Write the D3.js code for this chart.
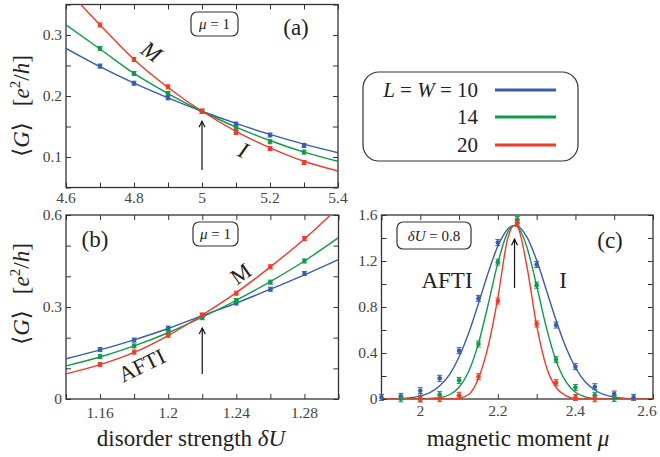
<!DOCTYPE html>
<html><head><meta charset="utf-8">
<script src="https://cdn.jsdelivr.net/npm/d3@7"></script>
<style>
body{margin:0;background:#fff;}
svg{display:block;font-family:"Liberation Serif","DejaVu Serif",serif;}
</style></head>
<body><svg id="c" width="660" height="457"></svg>
<script>
// ---------- data ----------
const sizes = ["10", "14", "20"];
const colors = ["#3a5cab", "#13994b", "#f03a2a"];

// panel (a): mu = 1, disorder strength sweep
const aX = [4.7, 4.8, 4.9, 5.0, 5.1, 5.2, 5.3];
const aY10 = [0.249, 0.221, 0.197, 0.175, 0.154, 0.136, 0.119];
const aY14 = [0.278, 0.237, 0.204, 0.175, 0.148, 0.125, 0.108];
const aY20 = [0.3165, 0.260, 0.215, 0.175, 0.140, 0.114, 0.091];
const aFitX = [4.6, 4.7, 4.8, 4.9, 5.0, 5.1, 5.2, 5.3, 5.4];
const aFit10 = [0.278, 0.248, 0.221, 0.197, 0.175, 0.155, 0.137, 0.121, 0.107];
const aFit14 = [0.3165, 0.277, 0.237, 0.204, 0.175, 0.149, 0.127, 0.108, 0.093];
const aFit20 = [0.376, 0.3165, 0.260, 0.214, 0.175, 0.142, 0.115, 0.093, 0.077];
const aXTicks = [4.6, 4.7, 4.8, 4.9, 5.0, 5.1, 5.2, 5.3, 5.4];
const aXLabels = [4.6, 4.8, 5.0, 5.2, 5.4];
const aYTicks = [0.05, 0.1, 0.15, 0.2, 0.25, 0.3, 0.35];
const aYLabels = [0.1, 0.2, 0.3];

// panel (b): mu = 1
const bX = [1.16, 1.18, 1.20, 1.22, 1.24, 1.26, 1.28];
const bY10 = [0.161, 0.192, 0.231, 0.272, 0.313, 0.358, 0.409];
const bY14 = [0.138, 0.173, 0.217, 0.265, 0.321, 0.381, 0.450];
const bY20 = [0.113, 0.153, 0.208, 0.274, 0.345, 0.431, 0.523];
const bFitX = [1.14, 1.16, 1.18, 1.20, 1.22, 1.24, 1.26, 1.28, 1.30];
const bFit10 = [0.131, 0.160, 0.193, 0.230, 0.272, 0.313, 0.358, 0.405, 0.455];
const bFit14 = [0.108, 0.137, 0.173, 0.216, 0.267, 0.322, 0.383, 0.450, 0.526];
const bFit20 = [0.082, 0.112, 0.152, 0.207, 0.274, 0.347, 0.431, 0.522, 0.625];
const bXTicks = [1.14, 1.16, 1.18, 1.20, 1.22, 1.24, 1.26, 1.28, 1.30];
const bXLabels = [1.16, 1.20, 1.24, 1.28];
const bYTicks = [0, 0.1, 0.2, 0.3, 0.4, 0.5, 0.6];
const bYLabels = [0, 0.3, 0.6];

// panel (c): dU = 0.8, magnetic moment sweep
const cX10 = [1.90, 1.95, 2.00, 2.05, 2.10, 2.15, 2.20, 2.25, 2.30, 2.35, 2.40, 2.45, 2.50, 2.55];
const cY10 = [0.014, 0.023, 0.072, 0.18, 0.42, 0.875, 1.36, 1.53, 1.17, 0.643, 0.281, 0.107, 0.043, 0.014];
const cX14 = [1.95, 2.00, 2.05, 2.10, 2.15, 2.20, 2.25, 2.30, 2.35, 2.40, 2.45, 2.50];
const cY14 = [0.002, 0.006, 0.038, 0.162, 0.478, 1.19, 1.56, 0.99, 0.342, 0.099, 0.032, 0.005];
const cX20 = [2.00, 2.05, 2.10, 2.15, 2.20, 2.25, 2.30, 2.35, 2.40, 2.45];
const cY20 = [0.0, 0.003, 0.032, 0.194, 0.852, 1.53, 0.652, 0.142, 0.014, 0.002];
const cFitX = [1.90, 1.95, 2.00, 2.05, 2.075, 2.10, 2.125, 2.15, 2.175, 2.20, 2.225, 2.243, 2.25, 2.275, 2.30, 2.325, 2.35, 2.375, 2.40, 2.425, 2.45, 2.50, 2.55, 2.60];
const cFit10 = [0.0004, 0.004, 0.025, 0.115, 0.21, 0.367, 0.576, 0.83, 1.097, 1.33, 1.477, 1.51, 1.505, 1.407, 1.206, 0.948, 0.684, 0.452, 0.274, 0.15, 0.078, 0.016, 0.002, 0.0];
const cFit14 = [0.0, 0.0, 0.0006, 0.011, 0.037, 0.102, 0.242, 0.484, 0.822, 1.184, 1.447, 1.51, 1.50, 1.32, 0.985, 0.623, 0.335, 0.153, 0.059, 0.019, 0.005, 0.0, 0.0, 0.0];
const cFit20 = [0.0, 0.0, 0.0, 0.0, 0.001, 0.007, 0.039, 0.18, 0.46, 0.88, 1.39, 1.51, 1.50, 1.15, 0.64, 0.28, 0.10, 0.03, 0.003, 0.0, 0.0, 0.0, 0.0, 0.0];
const cXTicks = [1.9, 2.0, 2.1, 2.2, 2.3, 2.4, 2.5, 2.6];
const cXLabels = [2.0, 2.2, 2.4, 2.6];
const cYTicks = [0, 0.2, 0.4, 0.6, 0.8, 1.0, 1.2, 1.4, 1.6];
const cYLabels = [0, 0.4, 0.8, 1.2, 1.6];

// ---------- drawing ----------
const svg = d3.select("#c");
const ink = "#222";
const tickInk = "#444";

function panel(o) {
  const x = d3.scaleLinear().domain(o.xd).range([o.l, o.r]);
  const y = d3.scaleLinear().domain(o.yd).range([o.b, o.t]);
  const g = svg.append("g");
  const cid = "clip" + o.id;
  svg.append("clipPath").attr("id", cid).append("rect")
    .attr("x", o.l).attr("y", o.t).attr("width", o.r - o.l).attr("height", o.b - o.t);

  const tl = 5;
  const axB = d3.axisBottom(x).tickValues(o.xt).tickSize(-tl).tickFormat("");
  const axT = d3.axisTop(x).tickValues(o.xt).tickSize(-tl).tickFormat("");
  const axL = d3.axisLeft(y).tickValues(o.yt).tickSize(-tl).tickFormat("");
  const axR = d3.axisRight(y).tickValues(o.yt).tickSize(-tl).tickFormat("");
  [[axB, `translate(0,${o.b})`], [axT, `translate(0,${o.t})`], [axL, `translate(${o.l},0)`], [axR, `translate(${o.r},0)`]]
    .forEach(([a, tr]) => {
      const ag = g.append("g").attr("transform", tr).call(a);
      ag.select(".domain").remove();
      ag.selectAll("line").attr("stroke", "#333").attr("stroke-width", 1);
    });
  g.append("rect").attr("x", o.l).attr("y", o.t).attr("width", o.r - o.l).attr("height", o.b - o.t)
    .attr("fill", "none").attr("stroke", "#333").attr("stroke-width", 1.3);

  const fmt = v => String(+v.toFixed(3));
  const last = o.xl[o.xl.length - 1];
  g.selectAll(".xl").data(o.xl).join("text")
    .attr("x", d => x(d) - (d === last ? (o.lastShift || 0) : 0)).attr("y", o.b + o.xlOff)
    .attr("text-anchor", "middle").attr("font-size", 15.5).attr("fill", tickInk).text(fmt);
  g.selectAll(".yl").data(o.yl).join("text")
    .attr("x", o.l - 4).attr("y", d => y(d) + 5)
    .attr("text-anchor", "end").attr("font-size", 15.5).attr("fill", tickInk).text(fmt);

  const line = d3.line().x(d => x(d[0])).y(d => y(d[1])).curve(d3.curveMonotoneX);
  o.fits.forEach((f, i) => {
    g.append("path").attr("clip-path", `url(#${cid})`)
      .attr("d", line(o.fitX.map((xv, k) => [xv, f[k]])))
      .attr("fill", "none").attr("stroke", colors[i]).attr("stroke-width", 1.4);
  });
  o.pts.forEach((p, i) => {
    const pts = p[0].map((xv, k) => [xv, p[1][k]]);
    const pg = g.append("g").attr("fill", colors[i]).attr("stroke", colors[i]);
    pts.forEach(([xv, yv]) => {
      const cx = x(xv), cy = y(yv), e = o.eb;
      pg.append("line").attr("x1", cx).attr("x2", cx).attr("y1", cy - e).attr("y2", cy + e).attr("stroke-width", 1);
      pg.append("line").attr("x1", cx - 2.5).attr("x2", cx + 2.5).attr("y1", cy - e).attr("y2", cy - e).attr("stroke-width", 1);
      pg.append("line").attr("x1", cx - 2.5).attr("x2", cx + 2.5).attr("y1", cy + e).attr("y2", cy + e).attr("stroke-width", 1);
      pg.append("circle").attr("cx", cx).attr("cy", cy).attr("r", 2.3).attr("stroke", "none");
    });
  });

  const ax = x(o.arrow[0]), ay0 = y(o.arrow[1]), ay1 = y(o.arrow[2]);
  g.append("line").attr("x1", ax).attr("x2", ax).attr("y1", ay0).attr("y2", ay1)
    .attr("stroke", "#111").attr("stroke-width", 1.2);
  g.append("path").attr("d", `M${ax - 3},${ay1 + 6} L${ax},${ay1} L${ax + 3},${ay1 + 6}`)
    .attr("fill", "none").attr("stroke", "#111").attr("stroke-width", 1.2);
  return { x, y, g };
}

panel({ id: "a", l: 66, r: 338, t: 4.5, b: 187.5, xd: [4.6, 5.4], yd: [0.05, 0.35],
  xt: aXTicks, xl: aXLabels, yt: aYTicks, yl: aYLabels, xlOff: 15,
  fitX: aFitX, fits: [aFit10, aFit14, aFit20], pts: [[aX, aY10], [aX, aY14], [aX, aY20]], eb: 2,
  arrow: [5.0, 0.0785, 0.1585] });
panel({ id: "b", l: 66, r: 338.5, t: 215, b: 399, xd: [1.14, 1.30], yd: [0, 0.6],
  xt: bXTicks, xl: bXLabels, yt: bYTicks, yl: bYLabels, xlOff: 19,
  fitX: bFitX, fits: [bFit10, bFit14, bFit20], pts: [[bX, bY10], [bX, bY14], [bX, bY20]], eb: 2,
  arrow: [1.22, 0.0815, 0.2315] });
panel({ id: "c", l: 381.5, r: 653, t: 215, b: 399, xd: [1.9, 2.6], yd: [0, 1.6],
  xt: cXTicks, xl: cXLabels, yt: cYTicks, yl: cYLabels, xlOff: 17, lastShift: 6,
  fitX: cFitX, fits: [cFit10, cFit14, cFit20], pts: [[cX10, cY10], [cX14, cY14], [cX20, cY20]], eb: 3,
  arrow: [2.243, 0.965, 1.39] });

// ---------- annotations ----------
function txt(x, y, s, size, opts = {}) {
  const t = svg.append("text").attr("x", x).attr("y", y).attr("font-size", size)
    .attr("fill", ink).attr("text-anchor", opts.anchor || "middle");
  if (opts.italic) t.attr("font-style", "italic");
  if (opts.rot) t.attr("transform", `rotate(${opts.rot},${x},${y})`);
  t.text(s);
  return t;
}
txt(296, 35, "(a)", 23);
txt(95, 247, "(b)", 23);
txt(610, 248, "(c)", 23);

function boxLabel(x0, y0, w, h, parts, bx, by) {
  svg.append("rect").attr("x", x0).attr("y", y0).attr("width", w).attr("height", h)
    .attr("rx", 6).attr("fill", "#fff").attr("stroke", "#333").attr("stroke-width", 1.2);
  const t = svg.append("text").attr("x", bx).attr("y", by).attr("font-size", 15)
    .attr("fill", ink).attr("text-anchor", "middle");
  parts.forEach(p => { const s = t.append("tspan").text(p[0]); if (p[1]) s.attr("font-style", "italic"); });
}
boxLabel(191, 12, 47, 24, [["μ", 1], [" = 1"]], 214.5, 29);
boxLabel(193, 222, 45, 24, [["μ", 1], [" = 1"]], 215.5, 239);
boxLabel(397, 222, 74, 27, [["δU", 1], [" = 0.8"]], 434, 240.5);

txt(147, 58, "M", 23, { italic: true, rot: 35 });
txt(240, 157, "I", 23, { italic: true, rot: 25 });
txt(245, 280, "M", 22, { rot: -35 });
txt(145, 372, "AFTI", 22, { rot: -26 });
txt(447, 288, "AFTI", 23);
txt(563, 288, "I", 23);

function yLabel(cx, cy) {
  const t = svg.append("text").attr("transform", `translate(${cx},${cy}) rotate(-90)`)
    .attr("text-anchor", "middle").attr("font-size", 23).attr("fill", ink);
  t.append("tspan").text("⟨");
  t.append("tspan").attr("font-style", "italic").text("G");
  t.append("tspan").text("⟩\u2002\u2009[");
  t.append("tspan").attr("font-style", "italic").text("e");
  t.append("tspan").attr("font-size", 15).attr("dy", -9).text("2");
  t.append("tspan").attr("dy", 9).text("/");
  t.append("tspan").attr("font-style", "italic").text("h");
  t.append("tspan").text("]");
}
yLabel(29, 106);
yLabel(29, 294);

const xl1 = svg.append("text").attr("x", 191).attr("y", 446).attr("text-anchor", "middle")
  .attr("font-size", 23).attr("fill", ink);
xl1.append("tspan").text("disorder strength ");
xl1.append("tspan").attr("font-style", "italic").text("δU");
const xl2 = svg.append("text").attr("x", 518).attr("y", 446).attr("text-anchor", "middle")
  .attr("font-size", 23).attr("fill", ink);
xl2.append("tspan").text("magnetic moment ");
xl2.append("tspan").attr("font-style", "italic").text("μ");

svg.append("rect").attr("x", 363).attr("y", 72).attr("width", 215).attr("height", 89)
  .attr("rx", 16).attr("fill", "#fff").attr("stroke", "#333").attr("stroke-width", 1.2);
const legY = [97, 124, 152];
sizes.forEach((s, i) => {
  const t = svg.append("text").attr("x", 478).attr("y", legY[i]).attr("text-anchor", "end")
    .attr("font-size", 21).attr("fill", ink);
  if (i === 0) {
    t.append("tspan").attr("font-style", "italic").text("L");
    t.append("tspan").text(" = ");
    t.append("tspan").attr("font-style", "italic").text("W");
    t.append("tspan").text(" = " + s);
  } else t.text(s);
  svg.append("line").attr("x1", 495).attr("x2", 556).attr("y1", legY[i] - 7).attr("y2", legY[i] - 7)
    .attr("stroke", colors[i]).attr("stroke-width", 3);
});
</script></body></html>
